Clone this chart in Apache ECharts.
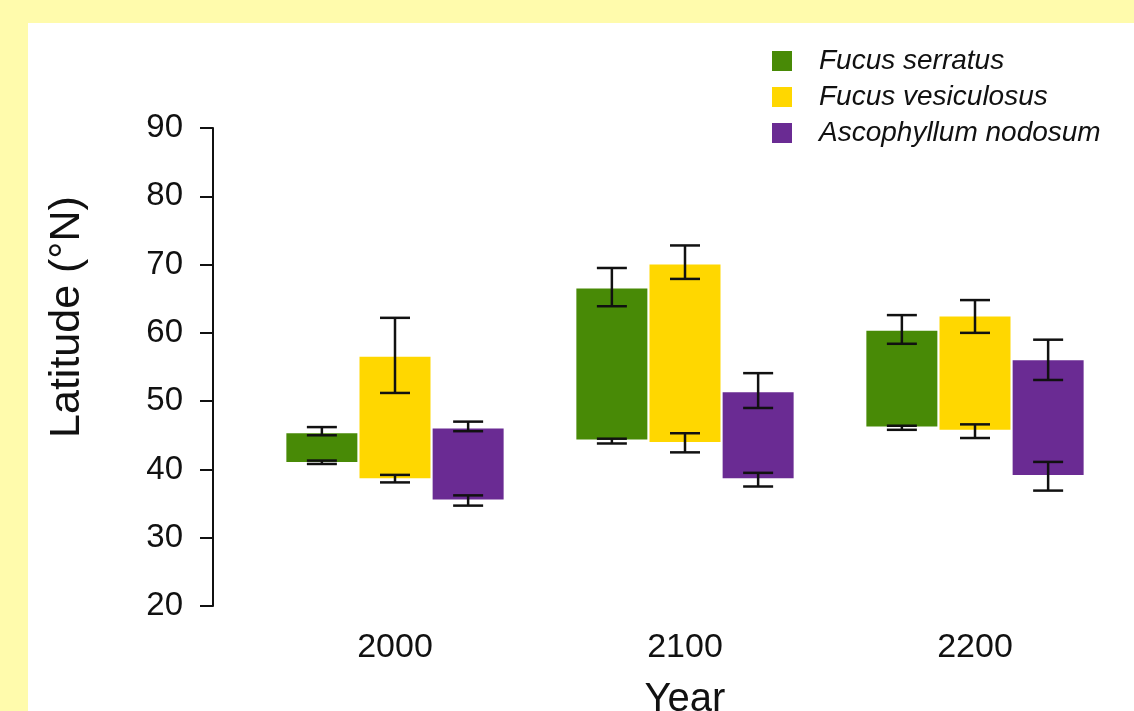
<!DOCTYPE html>
<html>
<head>
<meta charset="utf-8">
<script src="https://cdn.jsdelivr.net/npm/echarts@6/dist/echarts.min.js"></script>
<style>
  html, body { margin: 0; padding: 0; width: 1134px; height: 711px; background: #FFFBAC; overflow: hidden; }
  #chart { position: absolute; left: 28px; top: 23px; width: 1106px; height: 688px; background: #ffffff; }
</style>
</head>
<body>
<div id="chart"></div>
<script>
// ---- data ----
const years = ['2000', '2100', '2200'];
const species = ['Fucus serratus', 'Fucus vesiculosus', 'Ascophyllum nodosum'];
const yTicks = { min: 20, max: 90, step: 10 };

// southern (bottom) and northern (top) range limits, °N
const fsBottom = [41.1, 44.4, 46.3];
const fsTop    = [45.3, 66.5, 60.3];
const fvBottom = [38.7, 44.0, 45.8];
const fvTop    = [56.5, 70.0, 62.4];
const anBottom = [35.6, 38.7, 39.2];
const anTop    = [46.0, 51.3, 56.0];

// error bars [low, high] at the top and bottom limits
const fsTopErr    = [[45.0, 46.2], [63.9, 69.5], [58.4, 62.6]];
const fsBottomErr = [[40.8, 41.3], [43.8, 44.5], [45.8, 46.4]];
const fvTopErr    = [[51.2, 62.2], [67.9, 72.8], [60.0, 64.8]];
const fvBottomErr = [[38.1, 39.2], [42.5, 45.3], [44.6, 46.6]];
const anTopErr    = [[45.6, 47.0], [49.0, 54.1], [53.1, 59.0]];
const anBottomErr = [[34.7, 36.2], [37.5, 39.5], [36.9, 41.1]];

const colors = ['#488A06', '#FFD700', '#6A2B93'];

// ---- build ----
const bottoms = [fsBottom, fvBottom, anBottom];
const tops = [fsTop, fvTop, anTop];
const topErrs = [fsTopErr, fvTopErr, anTopErr];
const bottomErrs = [fsBottomErr, fvBottomErr, anBottomErr];

const BAR_W = 71;
const GAP = 0.03;
const FONT = "'Liberation Sans', Arial, Helvetica, sans-serif";

const series = [];
species.forEach((name, k) => {
  series.push({
    name: '_base' + k, type: 'bar', stack: 's' + k, barWidth: BAR_W, barGap: '3%',
    itemStyle: { color: 'transparent' }, silent: true,
    data: bottoms[k]
  });
  series.push({
    name: name, type: 'bar', stack: 's' + k, barWidth: BAR_W, barGap: '3%',
    itemStyle: { color: colors[k] },
    data: tops[k].map((t, i) => +(t - bottoms[k][i]).toFixed(2))
  });
});

species.forEach((name, k) => {
  const offset = (k - 1) * BAR_W * (1 + GAP);
  const data = [];
  years.forEach((y, i) => {
    data.push([i, topErrs[k][i][0], topErrs[k][i][1]]);
    data.push([i, bottomErrs[k][i][0], bottomErrs[k][i][1]]);
  });
  series.push({
    name: '_err' + k, type: 'custom', silent: true, clip: false, z: 10,
    encode: { x: 0, y: [1, 2] },
    data: data,
    renderItem: function (params, api) {
      const i = api.value(0);
      const lo = api.coord([i, api.value(1)]);
      const hi = api.coord([i, api.value(2)]);
      const x = lo[0] + offset;
      const cap = 15;
      const style = { stroke: '#111', lineWidth: 2.5, fill: null };
      return {
        type: 'group',
        children: [
          { type: 'line', shape: { x1: x, y1: lo[1], x2: x, y2: hi[1] }, style: style },
          { type: 'line', shape: { x1: x - cap, y1: lo[1], x2: x + cap, y2: lo[1] }, style: style },
          { type: 'line', shape: { x1: x - cap, y1: hi[1], x2: x + cap, y2: hi[1] }, style: style }
        ]
      };
    }
  });
});

const chart = echarts.init(document.getElementById('chart'), null, { renderer: 'canvas' });
chart.setOption({
  animation: false,
  backgroundColor: '#ffffff',
  textStyle: { fontFamily: FONT },
  legend: {
    data: species,
    orient: 'vertical',
    left: 739, top: 19,
    itemWidth: 20, itemHeight: 20, itemGap: 8,
    icon: 'rect',
    textStyle: { fontFamily: FONT, fontStyle: 'italic', fontSize: 28, color: '#111', padding: [0, 0, 0, 22] }
  },
  grid: { left: 222, right: 14, top: 105, bottom: 105, containLabel: false, outerBoundsMode: 'none' },
  xAxis: {
    type: 'category', data: years,
    name: 'Year', nameLocation: 'middle', nameGap: 74,
    nameTextStyle: { fontFamily: FONT, fontSize: 40, color: '#111' },
    axisLine: { show: false }, axisTick: { show: false },
    axisLabel: { fontFamily: FONT, fontSize: 34, color: '#111', margin: 25 },
    splitLine: { show: false }
  },
  yAxis: {
    type: 'value', min: yTicks.min, max: yTicks.max, interval: yTicks.step,
    offset: 37,
    name: 'Latitude (°N)', nameLocation: 'middle', nameGap: 124,
    nameTextStyle: { fontFamily: FONT, fontSize: 43, color: '#111', padding: [0, 0, 0, 100] },
    axisLine: { show: true, lineStyle: { color: '#111', width: 2 } },
    axisTick: { show: true, length: 13, lineStyle: { color: '#111', width: 2 } },
    axisLabel: { fontFamily: FONT, fontSize: 33, color: '#111', margin: 30 },
    splitLine: { show: false }
  },
  series: series
});
</script>
</body>
</html>
